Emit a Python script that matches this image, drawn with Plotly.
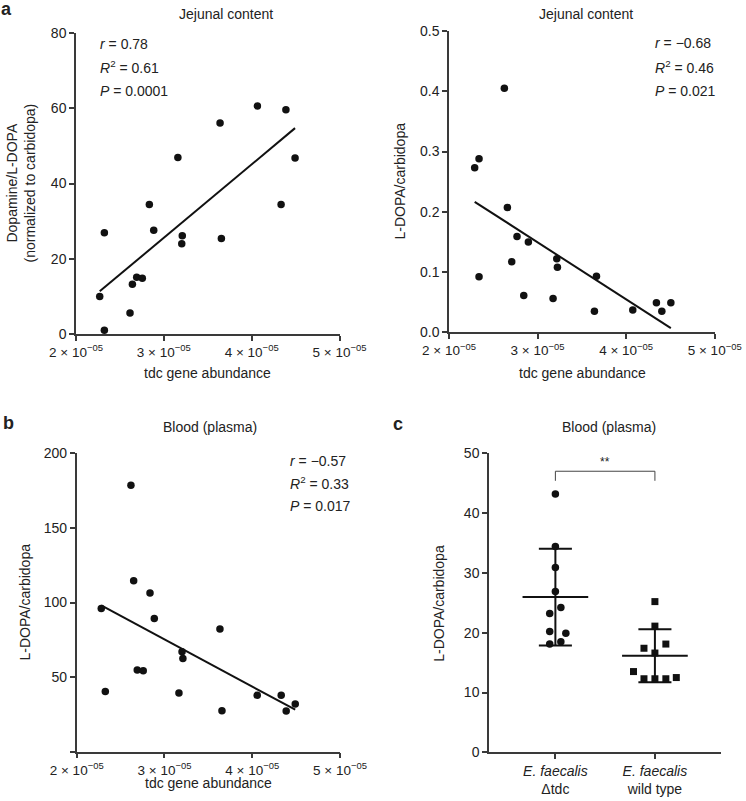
import numpy as np
import plotly.graph_objects as go

# ---------------- data ----------------
# Panel a (left): tdc gene abundance vs Dopamine/L-DOPA
a1_x = [3.16e-5, 3.64e-5, 4.065e-5, 4.39e-5, 4.494e-5, 2.835e-5, 4.335e-5, 2.323e-5, 2.885e-5,
        3.21e-5, 3.204e-5, 3.655e-5, 2.691e-5, 2.755e-5, 2.642e-5, 2.27e-5, 2.615e-5, 2.323e-5]
a1_y = [46.9, 56.1, 60.6, 59.6, 46.8, 34.4, 34.4, 26.9, 27.6,
        26.1, 24.0, 25.4, 15.1, 14.8, 13.2, 10.0, 5.6, 1.0]

# Panel a (right): tdc gene abundance vs L-DOPA/carbidopa
a2_x = [2.625e-5, 2.339e-5, 2.29e-5, 2.659e-5, 2.768e-5, 2.896e-5, 3.217e-5, 3.224e-5, 2.708e-5,
        2.339e-5, 3.665e-5, 2.844e-5, 3.175e-5, 3.642e-5, 4.075e-5, 4.342e-5, 4.403e-5, 4.505e-5]
a2_y = [0.405, 0.288, 0.273, 0.207, 0.159, 0.150, 0.122, 0.108, 0.117,
        0.092, 0.093, 0.061, 0.056, 0.035, 0.037, 0.049, 0.035, 0.049]

# Panel b: tdc gene abundance vs plasma L-DOPA/carbidopa
b_x = [2.618e-5, 2.649e-5, 2.835e-5, 2.28e-5, 2.884e-5, 3.632e-5, 3.20e-5, 3.21e-5, 2.69e-5,
       2.758e-5, 2.326e-5, 3.165e-5, 4.057e-5, 4.33e-5, 4.49e-5, 3.655e-5, 4.387e-5]
b_y = [178.6, 114.5, 106.3, 96.0, 89.3, 82.2, 67.0, 62.5, 54.7,
       54.3, 40.4, 39.3, 37.8, 37.8, 32.0, 27.5, 27.3]

# Panel c: plasma L-DOPA/carbidopa by strain
c_groups = ["<i>E. faecalis</i><br>Δtdc", "<i>E. faecalis</i><br>wild type"]
c_dtdc = [43.2, 34.4, 30.9, 26.9, 24.2, 23.2, 20.2, 19.9, 18.5, 18.1]
c_wt = [25.2, 21.1, 17.4, 18.1, 16.6, 13.5, 12.3, 12.3, 12.3, 12.5]
# horizontal scatter offsets (category units) for the dot-plot
c_dtdc_jit = [0, 0, 0, 0, 0.055, -0.057, -0.057, 0.105, 0.055, -0.057]
c_wt_jit = [0, 0, -0.11, 0.11, 0, -0.215, -0.11, 0, 0.11, 0.215]

x_ticks = [2e-5, 3e-5, 4e-5, 5e-5]
x_ticktext = ["2 × 10<sup>−05</sup>", "3 × 10<sup>−05</sup>", "4 × 10<sup>−05</sup>", "5 × 10<sup>−05</sup>"]

# ---------------- figure ----------------
W, H = 746, 801
FONT = "Liberation Sans, Arial, Helvetica, sans-serif"
AX = "#3a3a3a"
TXT = "#222222"

def px(xp):
    return xp / W

def py(yp):
    return 1 - yp / H

fig = go.Figure()

def scatter_fit(xs, ys, xa, ya):
    fig.add_trace(go.Scatter(x=xs, y=ys, mode="markers", xaxis=xa, yaxis=ya,
                             marker=dict(color="#111111", size=7.5), cliponaxis=False,
                             showlegend=False))
    k, b = np.polyfit(np.array(xs), np.array(ys), 1)
    fx = np.array([min(xs), max(xs)])
    fig.add_trace(go.Scatter(x=fx, y=k * fx + b, mode="lines", xaxis=xa, yaxis=ya,
                             line=dict(color="#111111", width=2), cliponaxis=False,
                             showlegend=False))

scatter_fit(a1_x, a1_y, "x", "y")
scatter_fit(a2_x, a2_y, "x2", "y2")
scatter_fit(b_x, b_y, "x3", "y3")

# Panel c
for gi, (vals, jit, sym) in enumerate([(c_dtdc, c_dtdc_jit, "circle"), (c_wt, c_wt_jit, "square")]):
    v = np.array(vals)
    m, s = v.mean(), v.std(ddof=1)
    line = dict(color="#111111", width=2)
    fig.add_trace(go.Scatter(x=[gi - 0.33, gi + 0.33], y=[m, m], mode="lines", xaxis="x4", yaxis="y4",
                             line=line, showlegend=False))
    fig.add_trace(go.Scatter(x=[gi, gi], y=[m - s, m + s], mode="lines", xaxis="x4", yaxis="y4",
                             line=line, showlegend=False))
    for yy in (m - s, m + s):
        fig.add_trace(go.Scatter(x=[gi - 0.166, gi + 0.166], y=[yy, yy], mode="lines", xaxis="x4",
                                 yaxis="y4", line=line, showlegend=False))
    fig.add_trace(go.Scatter(x=[gi + j for j in jit], y=vals, mode="markers", xaxis="x4", yaxis="y4",
                             marker=dict(color="#111111", size=7.5 if sym == "circle" else 7, symbol=sym),
                             cliponaxis=False, showlegend=False))

# significance bracket
fig.add_trace(go.Scatter(x=[0, 0, 1, 1], y=[45.4, 47.0, 47.0, 45.4], mode="lines", xaxis="x4", yaxis="y4",
                         line=dict(color="#444444", width=1), showlegend=False))

axis_common = dict(showline=True, linecolor=AX, linewidth=1.5, ticks="outside", ticklen=5,
                   tickwidth=1.5, tickcolor=AX, showgrid=False, zeroline=False, automargin=False,
                   tickfont=dict(family=FONT, size=14, color=TXT))
xfont = dict(family=FONT, size=13.5, color=TXT)

fig.update_layout(
    width=W, height=H, margin=dict(l=0, r=0, t=0, b=0, autoexpand=False),
    paper_bgcolor="white", plot_bgcolor="white", showlegend=False,
    font=dict(family=FONT, color=TXT),
    xaxis=dict(axis_common, domain=[px(76), px(339.5)], range=[2e-5, 5e-5], anchor="y",
               tickvals=x_ticks, ticktext=x_ticktext, tickfont=xfont),
    yaxis=dict(axis_common, domain=[py(334), py(33)], range=[0, 80], anchor="x",
               tickvals=[0, 20, 40, 60, 80]),
    xaxis2=dict(axis_common, domain=[px(449), px(714.7)], range=[2e-5, 5e-5], anchor="y2",
                tickvals=x_ticks, ticktext=x_ticktext, tickfont=xfont),
    yaxis2=dict(axis_common, domain=[py(332.3), py(31)], range=[0, 0.5], anchor="x2",
                tickvals=[0, 0.1, 0.2, 0.3, 0.4, 0.5], tickformat=".1f"),
    xaxis3=dict(axis_common, domain=[px(76.7), px(340)], range=[2e-5, 5e-5], anchor="y3",
                tickvals=x_ticks, ticktext=x_ticktext, tickfont=xfont),
    yaxis3=dict(axis_common, domain=[py(751.7), py(453.3)], range=[0, 200], anchor="x3",
                tickvals=[0, 50, 100, 150, 200], ticktext=["", "50", "100", "150", "200"]),
    xaxis4=dict(axis_common, domain=[px(489), px(721.3)], range=[-0.667, 1.667], anchor="y4",
                tickvals=[0, 1], ticktext=c_groups, tickfont=dict(family=FONT, size=14, color=TXT)),
    yaxis4=dict(axis_common, domain=[py(752.3), py(453.3)], range=[0, 50], anchor="x4",
                tickvals=[0, 10, 20, 30, 40, 50]),
)

def ann(text, x, y, size=13, xanchor="center", yanchor="middle", angle=0, **kw):
    fig.add_annotation(text=text, x=px(x), y=py(y), xref="paper", yref="paper", showarrow=False,
                       xanchor=xanchor, yanchor=yanchor, textangle=angle,
                       font=dict(family=FONT, size=size, color=TXT), **kw)

# panel letters
ann("<b>a</b>", 6, 9, size=18)
ann("<b>b</b>", 8, 423, size=18)
ann("<b>c</b>", 398, 424, size=18)

# panel titles
ann("Jejunal content", 226, 14, size=14)
ann("Jejunal content", 585.5, 14, size=14)
ann("Blood (plasma)", 210, 426.7, size=14)
ann("Blood (plasma)", 609, 426.5, size=14)

# axis titles
ann("tdc gene abundance", 207.5, 372.7, size=14)
ann("tdc gene abundance", 582, 372.7, size=14)
ann("tdc gene abundance", 208, 783, size=14)
ann("Dopamine/L-DOPA<br>(normalized to carbidopa)", 20, 183.5, size=14, angle=-90)
ann("L-DOPA/carbidopa", 399, 181.5, size=14, angle=-90)
ann("L-DOPA/carbidopa", 24, 602.5, size=14, angle=-90)
ann("L-DOPA/carbidopa", 439, 602.8, size=14, angle=-90)

# statistics
for x0, ys, lines in [
    (98, [44, 67, 91], ["<i>r</i> = 0.78", "<i>R</i><sup>2</sup> = 0.61", "<i>P</i> = 0.0001"]),
    (653, [43.3, 66.7, 90.7], ["<i>r</i> = −0.68", "<i>R</i><sup>2</sup> = 0.46", "<i>P</i> = 0.021"]),
    (288, [460.7, 482.5, 505.7], ["<i>r</i> = −0.57", "<i>R</i><sup>2</sup> = 0.33", "<i>P</i> = 0.017"]),
]:
    for yy, t in zip(ys, lines):
        ann(t, x0, yy, size=14, xanchor="left")

# significance stars
ann("**", 604.7, 462, size=12)

fig.write_html("out.html", config={"displayModeBar": False},
               post_script="document.body.style.margin='0';document.body.style.padding='0';")
